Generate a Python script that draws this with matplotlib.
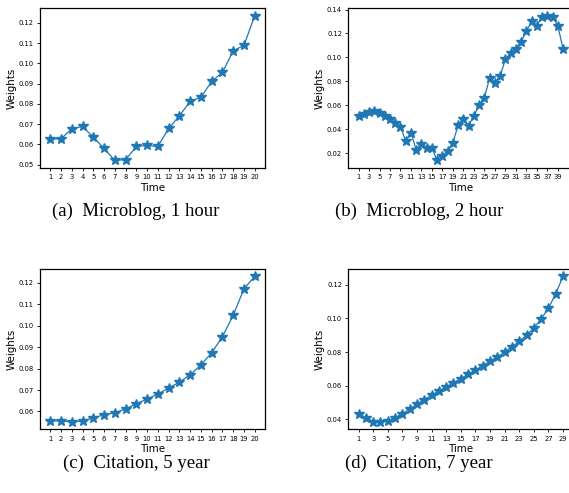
import numpy as np
import matplotlib.pyplot as plt

# Weights
weights_a = [0.0626, 0.0628, 0.0677, 0.0689, 0.0636, 0.0580, 0.0521, 0.0525, 0.0590, 0.0595,
             0.0590, 0.0679, 0.0741, 0.0813, 0.0833, 0.0911, 0.0956, 0.1062, 0.1089, 0.1236]
weights_b = [0.0513, 0.0527, 0.0541, 0.0555, 0.0532, 0.0513, 0.0488, 0.0452, 0.0419, 0.0302,
             0.0372, 0.0225, 0.0280, 0.0242, 0.0242, 0.0139, 0.0175, 0.0222, 0.0289, 0.0435,
             0.0485, 0.0430, 0.0513, 0.0604, 0.0665, 0.0829, 0.0790, 0.0845, 0.0984, 0.1037,
             0.1073, 0.1131, 0.1219, 0.1302, 0.1266, 0.1341, 0.1350, 0.1341, 0.1264, 0.1070]
weights_c = [0.0556, 0.0556, 0.0551, 0.0556, 0.0570, 0.0585, 0.0594, 0.0612, 0.0636, 0.0658,
             0.0681, 0.0709, 0.0737, 0.0771, 0.0817, 0.0874, 0.0949, 0.1049, 0.1172, 0.1230]
weights_d = [0.0432, 0.0410, 0.0386, 0.0384, 0.0390, 0.0410, 0.0432, 0.0461, 0.0489, 0.0517,
             0.0543, 0.0568, 0.0592, 0.0618, 0.0642, 0.0667, 0.0693, 0.0719, 0.0745, 0.0770,
             0.0800, 0.0832, 0.0863, 0.0899, 0.0943, 0.0996, 0.1061, 0.1147, 0.1250]
captions = ["(a)  Microblog, 1 hour", "(b)  Microblog, 2 hour",
            "(c)  Citation, 5 year", "(d)  Citation, 7 year"]
tick_steps = [1, 2, 1, 2]

W, H = 569, 493
fig = plt.figure(figsize=(W / 100, H / 100), dpi=100)

# axes boxes in pixels: left, top, right, bottom
boxes = [(40, 8.3, 265, 167.7), (348.3, 8.3, 573.3, 167.7),
         (40, 269, 265, 429.3), (348.3, 269, 573.3, 429.3)]
caption_pos = [(136, 211), (419, 211), (136, 463), (419, 463)]

for series, box, step, cap, cpos in zip([weights_a, weights_b, weights_c, weights_d],
                                       boxes, tick_steps, captions, caption_pos):
    l, t, r, b = box
    ax = fig.add_axes([l / W, 1 - b / H, (r - l) / W, (b - t) / H])
    x = np.arange(1, len(series) + 1)
    ax.plot(x, series, marker='*', markersize=7, linewidth=0.9, color='#1f77b4')
    ax.set_xticks(x[::step])
    ax.tick_params(labelsize=4.9, length=2.5, width=0.6, pad=2)
    ax.set_xlabel("Time", fontsize=7.4, labelpad=2)
    ax.set_ylabel("Weights", fontsize=7.4, labelpad=1.5)
    for s in ax.spines.values():
        s.set_linewidth(0.9)
    fig.text(cpos[0] / W, 1 - cpos[1] / H, cap, ha='center', va='center',
             family='Liberation Serif', fontsize=13.5)

fig.savefig("out.png", dpi=100)
